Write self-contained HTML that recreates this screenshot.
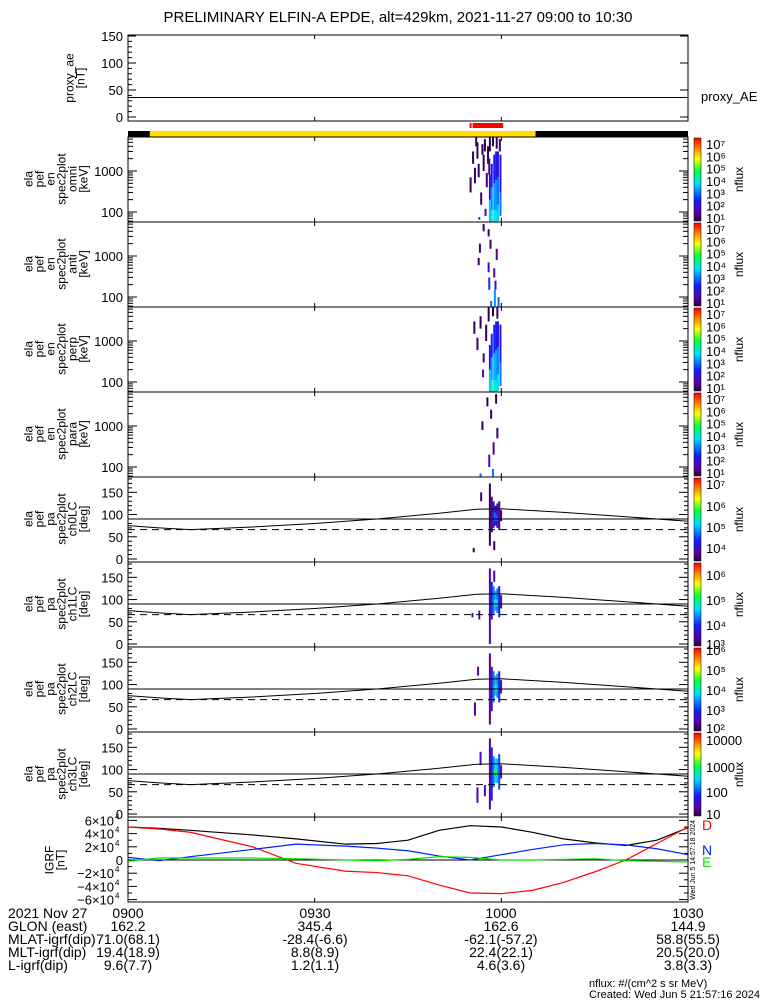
<!DOCTYPE html>
<html><head><meta charset="utf-8"><style>
body{margin:0;background:#fff;}
svg{display:block;font-family:"Liberation Sans",sans-serif;}
</style></head><body>
<svg id="c" width="775" height="1000" viewBox="0 0 775 1000">
<defs><linearGradient id="rb" x1="0" y1="1" x2="0" y2="0">
<stop offset="0" stop-color="#2a0040"/><stop offset="0.1" stop-color="#5a00a0"/><stop offset="0.25" stop-color="#1020ff"/><stop offset="0.45" stop-color="#00e0ff"/><stop offset="0.6" stop-color="#00ff40"/><stop offset="0.75" stop-color="#ffff00"/><stop offset="0.88" stop-color="#ff8000"/><stop offset="1" stop-color="#ff0000"/></linearGradient></defs>
<text x="398" y="22" font-size="15" text-anchor="middle">PRELIMINARY ELFIN-A EPDE, alt=429km, 2021-11-27 09:00 to 10:30</text>
<g id="g"></g>
</svg>
<script>
// ---------- data ----------
const aeValue = 36;
const timeTicks = ["0900","0930","1000","1030"];
const sciZone = [3.5, 65.5];          // yellow orbit segment, minutes since 0900
const redZone = [54.9, 60.3];         // red science bar
const paCurveT = [0,5,10,20,30,40,50,56,60,70,80,90];
const paCurveV = [75,70,66,72,80,90,103,112,113,105,95,85];
const lossCone = 66;
const igrfT = [0,5,10,20,27,35,40,45,50,55,60,65,70,75,80,85,90];
const igrfTotal = [5.0,4.8,4.5,3.8,3.2,2.4,2.5,3.0,4.5,5.2,5.0,4.2,3.2,2.6,2.2,3.0,4.9];
const igrfD = [5.0,4.7,4.2,2.0,-0.5,-1.7,-1.9,-2.4,-3.8,-5.0,-5.1,-4.6,-3.4,-1.8,0,2.5,5.0];
const igrfN = [0.4,-0.1,0.5,1.6,2.4,2.1,1.8,1.4,0.6,0,0.8,1.6,2.3,2.5,2.3,1.7,0.8];
const igrfE = [-0.2,0.3,0.3,0.3,0.2,0,-0.1,0.1,0.5,0.4,0,0,0.1,0.2,-0.1,-0.2,-0.3];
const omniStreaks = [[58.0,58,200,3.5],[58.0,200,800,2.2],[58.3,58,110,3.8],[58.3,110,400,3.2],[58.3,400,1500,2.3],[58.7,58,110,3.9],[58.7,110,500,3.3],[58.7,500,2500,2.4],[59.0,58,110,3.8],[59.0,110,600,3.2],[59.0,600,3000,2.3],[59.3,60,150,3.6],[59.3,150,700,3.0],[59.3,700,3000,2.2],[59.7,80,300,3.0],[59.7,300,2500,2.1],
[54.9,300,700,1.1],[55.3,1500,3000,1.1],[55.6,500,1200,1.2],[56.0,2000,5000,1.1],[56.2,700,1500,1.2],[56.6,150,300,1.3],[57.0,1000,2500,1.1],[57.2,3000,6000,1.1],[57.5,400,900,1.3],[57.7,1500,4000,1.1],[58.0,3000,6700,1.1],[58.5,4000,6700,1.1],[59.1,3500,6700,1.2],[59.6,3000,6000,1.3],[56.8,2500,4500,1.0],[55.8,4000,6700,1.1],[57.9,800,2000,1.4],[57.3,80,120,2.0],[56.3,65,75,2.5]];
const antiStreaks = [[57.8,3000,4500,1.2],[58.1,1500,2500,1.2],[57.0,4000,6000,1.2],[56.4,1200,2000,1.3],[58.7,300,500,1.6],[59.1,800,1500,1.5],[57.8,400,700,2.0],[57.9,150,300,2.6],[58.9,150,250,2.0],[58.8,58,150,3.2],[59.4,58,100,3.0],[58.2,58,80,3.0],[56.2,600,900,1.2]];
const perpStreaks = [[58.0,58,200,3.6],[58.0,200,800,2.3],[58.3,58,110,3.9],[58.3,110,400,3.3],[58.3,400,1500,2.4],[58.7,58,110,4.0],[58.7,110,500,3.4],[58.7,500,2500,2.5],[59.0,58,110,3.9],[59.0,110,600,3.3],[59.0,600,3000,2.4],[59.3,60,150,3.7],[59.3,150,700,3.1],[59.3,700,3000,2.2],[59.7,80,300,3.0],[59.7,300,2500,2.1],
[55.5,1500,3000,1.1],[56.0,600,1200,1.2],[56.5,2000,4000,1.1],[57.0,300,500,1.3],[57.4,1000,2500,1.1],[57.8,3000,6700,1.1],[58.5,4000,6700,1.1],[59.2,3500,6700,1.2],[56.9,130,200,1.8]];
const paraStreaks = [[57.6,3000,5000,1.1],[58.2,1500,2500,1.2],[56.8,800,1300,1.1],[58.6,200,400,1.5],[59.2,500,900,1.3],[57.9,100,200,2.0],[58.5,58,90,3.0],[56.5,58,70,3.0],[59.0,3500,6000,1.1]];
const ch0Streaks = [[58.0,30,170,3.7],[58.3,60,140,3.9],[58.6,70,130,4.2],[58.9,75,120,4.4],[59.2,70,125,4.1],[59.5,65,130,3.9],[59.8,85,110,3.8],[56.6,130,150,3.7],[58.7,20,40,3.7],[55.4,15,25,3.7],[59.1,85,100,4.7],[58.8,85,105,4.7]];
const ch1Streaks = [[58.0,0,170,3.3],[58.3,55,140,3.6],[58.6,65,130,4.0],[58.9,75,120,4.2],[59.2,70,125,4.0],[59.5,60,130,3.6],[59.8,80,110,3.4],[55.2,60,70,3.3],[56.3,55,75,3.3],[58.7,140,165,3.3],[59.1,85,100,4.5],[58.8,85,100,4.5]];
const ch2Streaks = [[58.0,10,170,2.2],[58.3,40,140,2.6],[58.6,60,130,3.2],[58.9,75,120,3.5],[59.2,70,125,3.3],[59.5,60,130,2.8],[59.8,80,110,2.5],[55.6,30,60,2.2],[56.1,120,140,2.2],[59.0,85,100,3.9],[58.8,88,98,4.0]];
const ch3Streaks = [[58.0,10,170,1.3],[58.3,30,150,1.7],[58.6,60,130,2.1],[58.9,70,125,2.5],[59.2,70,125,2.3],[59.5,55,135,1.9],[59.8,80,110,1.6],[56.0,25,60,1.3],[56.5,110,140,1.4],[57.2,40,65,1.5],[59.0,85,100,2.9],[58.8,90,100,3.0]];
const cbLabels1 = [1,2,3,4,5,6,7];
const bottomRowLabels = ["2021 Nov 27","GLON (east)","MLAT-igrf(dip)","MLT-igrf(dip)","L-igrf(dip)"];
const bottomCol0 = ["0900","162.2","71.0(68.1)","19.4(18.9)","9.6(7.7)"];
const bottomCol1 = ["0930","345.4","-28.4(-6.6)","8.8(8.9)","1.2(1.1)"];
const bottomCol2 = ["1000","162.6","-62.1(-57.2)","22.4(22.1)","4.6(3.6)"];
const bottomCol3 = ["1030","144.9","58.8(55.5)","20.5(20.0)","3.8(3.3)"];

// ---------- helpers ----------
const NS="http://www.w3.org/2000/svg", G=document.getElementById('g');
const X0=128, X1=688;
const xT = t => X0 + t/90*(X1-X0);
function mk(tag, attrs, parent){const e=document.createElementNS(NS,tag);for(const k in attrs)e.setAttribute(k,attrs[k]);(parent||G).appendChild(e);return e;}
function txt(x,y,s,size,anchor,fill){const e=mk('text',{x:x,y:y,'font-size':size||13,'text-anchor':anchor||'start',fill:fill||'#000'});e.textContent=s;return e;}
const stops=[[0,[42,0,64]],[0.1,[90,0,160]],[0.25,[16,32,255]],[0.45,[0,224,255]],[0.6,[0,255,64]],[0.75,[255,255,0]],[0.88,[255,128,0]],[1,[255,0,0]]];
function cmap(f){f=Math.max(0,Math.min(1,f));for(let i=1;i<stops.length;i++){if(f<=stops[i][0]){const a=stops[i-1],b=stops[i],u=(f-a[0])/(b[0]-a[0]);return 'rgb('+a[1].map((v,k)=>Math.round(v+(b[1][k]-v)*u)).join(',')+')';}}return 'rgb(255,0,0)';}
function timeTicksOn(top,bot){for(let i=0;i<4;i++){const x=xT(i*30);mk('line',{x1:x,y1:top,x2:x,y2:top+4,stroke:'#000'});mk('line',{x1:x,y1:bot,x2:x,y2:bot-4,stroke:'#000'});}}
function frame(top,bot,name){const r=mk('rect',{x:X0,y:top,width:X1-X0,height:bot-top,fill:'none',stroke:'#000','stroke-width':1});timeTicksOn(top,bot);}
function ylabel(lines,cx,cy){const g=mk('g',{transform:'translate('+cx+','+cy+') rotate(-90)'});const n=lines.length;lines.forEach((s,i)=>{const t=mk('text',{x:0,y:(i-(n-1)/2)*11+4,'font-size':12,'text-anchor':'middle'},g);t.textContent=s;});}
function colorbar(top,bot,labels,name){const r=mk('rect',{x:694,y:top+1,width:7,height:bot-top-2,fill:'url(#rb)',stroke:'#000','stroke-width':0.5});
 labels.forEach(l=>{const t=txt(706,l[1]+5,l[0],13);});
 const g=mk('g',{transform:'translate(739,'+((top+bot)/2)+') rotate(-90)'});const t=mk('text',{x:0,y:4,'font-size':12,'text-anchor':'middle'},g);t.textContent='nflux';}
function streaks(arr,yf,cmin,cmax,w){arr.forEach(s=>{const y1=yf(s[2]),y2=yf(s[1]);const r=mk('rect',{x:xT(s[0]),y:Math.min(y1,y2),width:w||2,height:Math.abs(y2-y1),fill:cmap((s[3]-cmin)/(cmax-cmin))});});}

// ---------- proxy AE ----------
{const top=35,bot=121,yv=v=>117-(v/150)*81;
 frame(top,bot,'proxy-ae-panel');
 [0,50,100,150].forEach(v=>{mk('line',{x1:X0,y1:yv(v),x2:X0+8,y2:yv(v),stroke:'#000'});mk('line',{x1:X1,y1:yv(v),x2:X1-8,y2:yv(v),stroke:'#000'});txt(123,yv(v)+5,String(v),13,'end');});
 for(let v=10;v<150;v+=10){if(v%50)mk('line',{x1:X0,y1:yv(v),x2:X0+4,y2:yv(v),stroke:'#000'});}
 const l=mk('line',{x1:X0,y1:yv(aeValue),x2:X1,y2:yv(aeValue),stroke:'#000'});
 ylabel(['proxy_ae','[nT]'],75,78);
 txt(701,101,'proxy_AE',13);}
// orbit bar
{mk('rect',{x:X0,y:131,width:X1-X0,height:6,fill:'#000'});
 const y=mk('rect',{x:xT(sciZone[0]),y:131,width:xT(sciZone[1])-xT(sciZone[0]),height:6,fill:'#ffdd00'});
 mk('rect',{x:xT(redZone[0]),y:123,width:2,height:5,fill:'#f00'});
 const r=mk('rect',{x:xT(redZone[0])+3,y:123,width:xT(redZone[1])-xT(redZone[0])-3,height:5,fill:'#f00'});}
// ---------- energy spectrograms ----------
const eNames=['omni','anti','perp','para'], eData=[omniStreaks,antiStreaks,perpStreaks,paraStreaks];
for(let i=0;i<4;i++){const top=137+85*i,bot=top+85;const yE=e=>bot-(Math.log10(e)-Math.log10(57))*41;
 streaks(eData[i],yE,1,7,2);
 frame(top,bot,'energy-panel-'+eNames[i]);
 for(let d=10;d<=10000;d*=10)for(let m=1;m<10;m++){const e=d*m;const y=yE(e);if(y<top||y>bot)continue;const L=(m==1)?9:5;mk('line',{x1:X0,y1:y,x2:X0+L,y2:y,stroke:'#000'});mk('line',{x1:X1,y1:y,x2:X1-L,y2:y,stroke:'#000'});}
 txt(123,yE(100)+5,'100',13,'end');txt(123,yE(1000)+5,'1000',13,'end');
 ylabel(['ela','pef','en','spec2plot',eNames[i],'[keV]'],56,top+42);
 colorbar(top,bot,cbLabels1.map(p=>['10'+String.fromCharCode(0x2070,0xb9,0xb2,0xb3,0x2074,0x2075,0x2076,0x2077,0x2078,0x2079).charAt(p),bot-4-(p-1)/6*74]),'colorbar-'+eNames[i]);}
// ---------- pitch angle panels ----------
const sup=p=>'10'+'⁰¹²³⁴⁵⁶⁷⁸⁹'.charAt(p);
const paData=[ch0Streaks,ch1Streaks,ch2Streaks,ch3Streaks];
const paRange=[[3.6,7.1],[2.8,6.3],[1.8,5.9],[0.9,4.3]];
const paLabels=[[[sup(7),484],[sup(6),506],[sup(5),527],[sup(4),548]],[[sup(6),575],[sup(5),600],[sup(4),625],[sup(3),644]],[[sup(6),650],[sup(5),670],[sup(4),690],[sup(3),710],[sup(2),728]],[['10000',740],['1000',767],['100',792],['10',814]]];
for(let i=0;i<4;i++){const top=477+85*i,bot=top+85;const yP=p=>bot-3-p/180*80;
 streaks(paData[i],yP,paRange[i][0],paRange[i][1],2);
 frame(top,bot,'pitch-angle-panel-ch'+i);
 for(let p=0;p<=180;p+=10){const L=(p%50==0)?9:4;mk('line',{x1:X0,y1:yP(p),x2:X0+L,y2:yP(p),stroke:'#000'});mk('line',{x1:X1,y1:yP(p),x2:X1-L,y2:yP(p),stroke:'#000'});}
 [0,50,100,150].forEach(p=>txt(123,yP(p)+5,String(p),13,'end'));
 mk('line',{x1:X0,y1:yP(90),x2:X1,y2:yP(90),stroke:'#000'});
 const d=mk('line',{x1:X0,y1:yP(lossCone),x2:X1,y2:yP(lossCone),stroke:'#000','stroke-dasharray':'7,5'});
 const pl=mk('polyline',{points:paCurveT.map((t,k)=>xT(t)+','+yP(paCurveV[k])).join(' '),fill:'none',stroke:'#000'});
 ylabel(['ela','pef','pa','spec2plot','ch'+i+'LC','[deg]'],56,top+42);
 colorbar(top,bot,paLabels[i],'colorbar-ch'+i);}
// ---------- IGRF ----------
{const top=817,bot=902,yB=v=>860-v*6.6;
 frame(top,bot,'igrf-panel');
 for(let v=-6;v<=6;v++){const L=(v%2==0)?9:4;mk('line',{x1:X0,y1:yB(v),x2:X0+L,y2:yB(v),stroke:'#000'});mk('line',{x1:X1,y1:yB(v),x2:X1-L,y2:yB(v),stroke:'#000'});}
 mk('line',{x1:X0,y1:yB(0),x2:X1,y2:yB(0),stroke:'#000'});
 [6,4,2,0,-2,-4,-6].forEach(v=>{if(v==0){txt(123,yB(0)+5,'0',13,'end');return;}const t=txt(114,yB(v)+5,(v<0?'−':'')+Math.abs(v)+'×10',13,'end');txt(115,yB(v)-1,'4',8);});
 const series=[[igrfTotal,'#000','igrf-total-line'],[igrfD,'#f00','igrf-d-line'],[igrfN,'#0020ff','igrf-n-line'],[igrfE,'#00e000','igrf-e-line']];
 series.forEach(s=>{const p=mk('polyline',{points:igrfT.map((t,k)=>xT(t)+','+yB(s[0][k])).join(' '),fill:'none',stroke:s[1],'stroke-width':1.2});});
 txt(702,830,'D',14,'start','#f00');txt(702,855,'N',14,'start','#0020ff');txt(702,867,'E',14,'start','#00e000');
 ylabel(['IGRF','[nT]'],55,860);
 const g=mk('g',{transform:'translate(695,860) rotate(-90)'});const t=mk('text',{x:0,y:0,'font-size':7,'text-anchor':'middle'},g);t.textContent='Wed Jun  5 14:57:18 2024';}
// ---------- bottom annotations ----------
bottomRowLabels.forEach((s,k)=>txt(8,918+13*k,s,14));
[[bottomCol0,128],[bottomCol1,315],[bottomCol2,501],[bottomCol3,688]].forEach(c=>c[0].forEach((s,k)=>{const t=txt(c[1],918+13*k,s,14,'middle');}));
txt(589,987,'nflux: #/(cm^2 s sr MeV)',11);
txt(589,998,'Created: Wed Jun  5 21:57:16 2024',11);
</script>
</body></html>
